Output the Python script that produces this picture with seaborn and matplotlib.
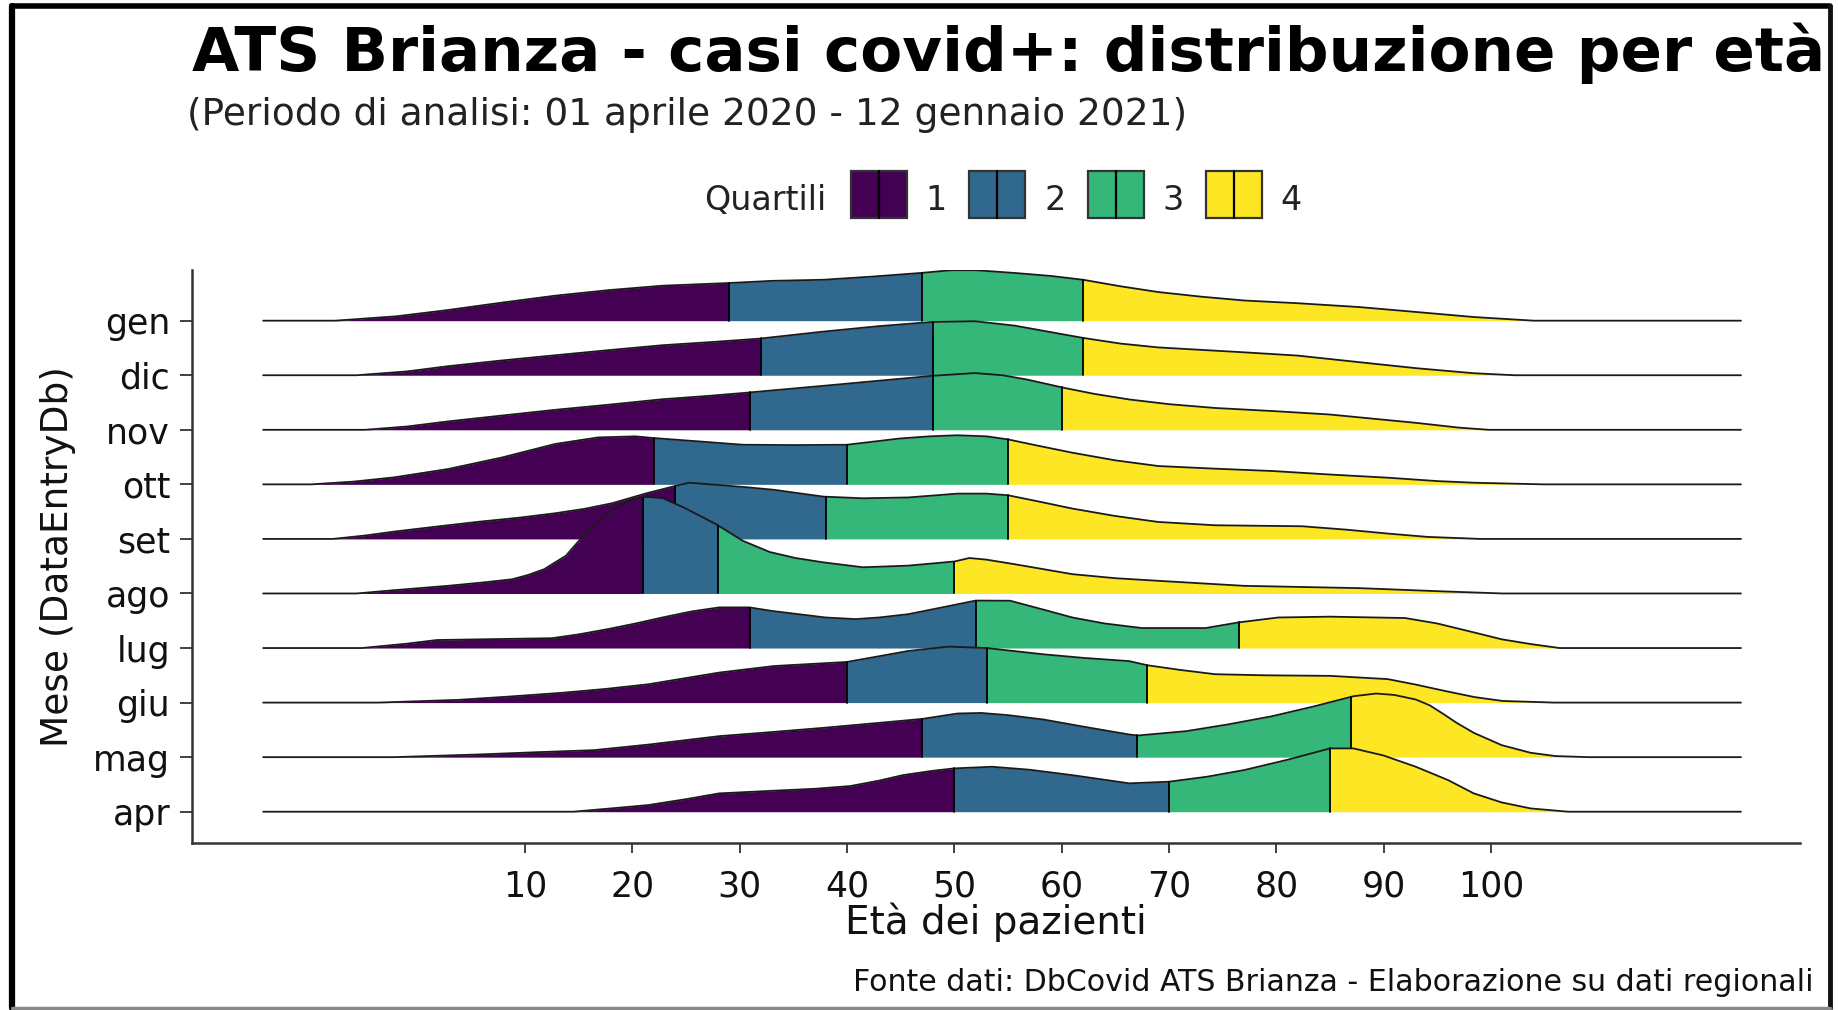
import numpy as np
import matplotlib.pyplot as plt
import seaborn as sns
from matplotlib.patches import Rectangle
from matplotlib.lines import Line2D

W, H = 1838, 1010

# months from bottom (apr) to top (gen)
months = ['apr', 'mag', 'giu', 'lug', 'ago', 'set', 'ott', 'nov', 'dic', 'gen']

# density outlines: age and ridge height (in rows)
apr_age = [14.5, 18, 21.5, 25, 28.1, 33.2, 37, 40.3, 43, 45.2, 48, 50, 53.5, 57, 61, 66.3, 70, 73.5, 77,
           81, 85, 87.2, 90, 93, 96, 98.4, 101, 103.7, 107.2]
apr_h = [0, 0.06, 0.122, 0.23, 0.336, 0.385, 0.42, 0.47, 0.57, 0.67, 0.75, 0.794, 0.824, 0.77, 0.67, 0.52,
         0.55, 0.64, 0.763, 0.95, 1.16, 1.16, 1.03, 0.824, 0.58, 0.336, 0.17, 0.06, 0]

mag_age = [-2.2, 5.8, 11, 16.4, 21.5, 28.1, 33, 37.8, 42.5, 47, 50.3, 52.5, 55, 58.3, 62, 66.3, 67.1, 71.6,
           75.5, 79.6, 83.5, 87.2, 89.3, 91, 93, 94.3, 95.5, 96.8, 98.4, 101, 103.7, 106, 109.1]
mag_h = [0, 0.05, 0.09, 0.128, 0.23, 0.385, 0.46, 0.537, 0.62, 0.70, 0.80, 0.81, 0.77, 0.69, 0.56, 0.415,
         0.397, 0.476, 0.60, 0.75, 0.93, 1.117, 1.166, 1.14, 1.056, 0.95, 0.80, 0.63, 0.446, 0.22, 0.08,
         0.02, 0]

giu_age = [-3.7, 3.8, 8.5, 13.5, 17.5, 21.5, 25, 28.1, 33.2, 40, 43, 45.7, 49.5, 53, 58.3, 62, 66.3, 68,
           71, 74.3, 79, 85, 90.4, 93, 95.7, 98.5, 101.1, 105.9]
giu_h = [0, 0.05, 0.11, 0.18, 0.25, 0.336, 0.45, 0.55, 0.67, 0.745, 0.85, 0.946, 1.026, 1.0, 0.885, 0.82,
         0.76, 0.684, 0.60, 0.52, 0.50, 0.49, 0.43, 0.33, 0.214, 0.10, 0.03, 0]

lug_age = [-5.2, -1, 1.8, 6, 12.5, 15, 17.8, 20.3, 22.8, 25.5, 28.1, 30.9, 33, 35.5, 38, 40.8, 43, 45.7,
           49, 52, 55.2, 58, 61, 64, 67.5, 73.4, 76.5, 80.2, 85, 92, 95, 98.4, 101, 103.7, 106.4]
lug_h = [0, 0.08, 0.147, 0.16, 0.18, 0.25, 0.35, 0.45, 0.56, 0.67, 0.745, 0.745, 0.68, 0.62, 0.56, 0.53,
         0.56, 0.62, 0.75, 0.87, 0.867, 0.72, 0.56, 0.45, 0.366, 0.366, 0.47, 0.56, 0.575, 0.55, 0.45,
         0.287, 0.16, 0.073, 0]

ago_age = [-5.7, -2.2, 2.8, 6, 8.8, 10.3, 11.8, 12.8, 13.8, 15, 15.8, 17.8, 19.8, 21.3, 22.8, 24.8, 27.8,
           30.3, 32.8, 35.2, 37.8, 41.5, 45.7, 50, 51.4, 53, 55.6, 61, 65, 69, 77, 87.7, 95.7, 101.1]
ago_h = [0, 0.06, 0.14, 0.2, 0.26, 0.34, 0.446, 0.57, 0.69, 0.96, 1.15, 1.48, 1.71, 1.77, 1.75, 1.575,
         1.27, 0.965, 0.76, 0.65, 0.57, 0.48, 0.51, 0.586, 0.65, 0.62, 0.537, 0.354, 0.28, 0.232, 0.14,
         0.098, 0.037, 0]

set_age = [-7.9, -5, -2.2, 1.5, 5.8, 9.5, 12.8, 15.5, 18.1, 21.3, 23.8, 25.3, 27.9, 30.5, 33.2, 37.8,
           41.5, 45.7, 50.3, 53, 55, 58, 61, 65, 69, 74.3, 82.4, 86.5, 90.4, 94.1, 99]
set_h = [0, 0.06, 0.134, 0.22, 0.317, 0.39, 0.47, 0.55, 0.653, 0.836, 0.96, 1.03, 0.99, 0.95, 0.90,
         0.775, 0.745, 0.76, 0.83, 0.83, 0.80, 0.68, 0.556, 0.42, 0.311, 0.25, 0.232, 0.17, 0.098, 0.037, 0]

ott_age = [-9.9, -6, -2.2, 2.8, 7.8, 12.8, 16.8, 20.3, 21.9, 26, 30.3, 35, 40, 44.9, 47.7, 50.3, 53, 55,
           58, 61, 65, 69, 74, 79.7, 85, 90.4, 95, 98.4, 104.9]
ott_h = [0, 0.05, 0.128, 0.28, 0.49, 0.74, 0.86, 0.88, 0.85, 0.79, 0.726, 0.72, 0.726, 0.84, 0.88, 0.90,
         0.88, 0.824, 0.70, 0.58, 0.44, 0.336, 0.29, 0.244, 0.18, 0.122, 0.06, 0.03, 0]

nov_age = [-4.9, -1, 2.8, 7.8, 12.8, 17.8, 22.8, 27, 30.9, 37.8, 43, 48, 51.9, 54.5, 56.8, 60.2, 63,
           66.3, 70, 74.3, 80, 85, 93, 97, 99.8]
nov_h = [0, 0.06, 0.153, 0.26, 0.366, 0.46, 0.56, 0.62, 0.684, 0.806, 0.90, 0.99, 1.04, 1.0, 0.92, 0.77,
         0.66, 0.556, 0.47, 0.40, 0.34, 0.28, 0.128, 0.04, 0]

dic_age = [-5.7, -1, 2.8, 7.8, 12.8, 17.8, 22.8, 27.5, 31.8, 37.8, 43, 47.8, 51.9, 55.6, 59, 62, 65.5,
           69, 77, 82, 87.7, 93, 98.4, 102.2]
dic_h = [0, 0.07, 0.165, 0.27, 0.366, 0.46, 0.55, 0.61, 0.67, 0.80, 0.90, 0.975, 0.99, 0.91, 0.79, 0.684,
         0.58, 0.51, 0.42, 0.36, 0.24, 0.13, 0.037, 0]

gen_age = [-7.7, -2, 2.8, 7.8, 12.8, 17.8, 22.8, 29, 33, 37.8, 42.5, 46.9, 49.7, 52, 55.6, 59, 62, 65.5,
           69, 73, 77, 82, 87.7, 93, 98.4, 104]
gen_h = [0, 0.08, 0.195, 0.33, 0.458, 0.56, 0.641, 0.69, 0.73, 0.75, 0.81, 0.875, 0.925, 0.925, 0.875,
         0.82, 0.75, 0.63, 0.525, 0.44, 0.37, 0.32, 0.25, 0.16, 0.067, 0]

# quartile cut points per month (same order as months)
q1 = [50, 47, 40, 31, 21, 24, 22, 31, 32, 29]
q2 = [70, 67, 53, 52, 28, 38, 40, 48, 48, 47]
q3 = [85, 87, 68, 76.5, 50, 55, 55, 60, 62, 62]

age_min, age_max = -14.4, 123.3
xticks = [10, 20, 30, 40, 50, 60, 70, 80, 90, 100]
quart_labels = ['1', '2', '3', '4']
viridis4 = ['#440154', '#31688E', '#35B779', '#FDE725']

ages = [apr_age, mag_age, giu_age, lug_age, ago_age, set_age, ott_age, nov_age, dic_age, gen_age]
heights = [apr_h, mag_h, giu_h, lug_h, ago_h, set_h, ott_h, nov_h, dic_h, gen_h]

sns.set_theme(style='ticks')
plt.rcParams['font.family'] = ['DejaVu Sans']

fig = plt.figure(figsize=(W / 100, H / 100), dpi=100)
ax = fig.add_axes([191.8 / W, 1 - 843.3 / H, (1800 - 191.8) / W, (843.3 - 270) / H])

# draw ridges from the top one down, so lower ridges lie over upper ones
for i in reversed(range(len(months))):
    xs = np.array(ages[i], dtype=float)
    hs = np.array(heights[i], dtype=float)
    z = 10 + (len(months) - i) * 3
    bounds = [xs[0], q1[i], q2[i], q3[i], xs[-1]]
    for k in range(4):
        a, b = bounds[k], bounds[k + 1]
        inner = (xs > a) & (xs < b)
        sx = np.concatenate([[a], xs[inner], [b]])
        sh = np.interp(sx, xs, hs)
        ax.fill_between(sx, i, i + sh, color=viridis4[k], lw=0, zorder=z)
    ox = np.concatenate([[age_min], xs, [age_max]])
    oh = np.concatenate([[0], hs, [0]])
    sns.lineplot(x=ox, y=i + oh, ax=ax, color='#1a1a1a', lw=1.3, sort=False, estimator=None, zorder=z + 1)
    for q in [q1[i], q2[i], q3[i]]:
        ax.plot([q, q], [i, i + np.interp(q, xs, hs)], color='black', lw=1.3, zorder=z + 1)

ax.set_xlim(-21.05, 128.8)
ax.set_ylim(-0.579, 9.929)
ax.set_xticks(xticks)
ax.set_xticklabels([str(t) for t in xticks])
ax.set_yticks(range(len(months)))
ax.set_yticklabels(months)
ax.set_xlabel('')
ax.set_ylabel('')
sns.despine(ax=ax)
for s in ['left', 'bottom']:
    ax.spines[s].set_color('#333333')
    ax.spines[s].set_linewidth(1.8)
ax.tick_params(axis='y', length=8.6, width=1.3, pad=7, labelsize=25, color='#333333', labelcolor='#111111')
ax.tick_params(axis='x', length=7, width=1.3, pad=12, labelsize=25, color='#333333', labelcolor='#111111')

# titles and labels
fig.text(192 / W, 1 - 71 / H, 'ATS Brianza - casi covid+: distribuzione per età', fontsize=44,
         fontweight='bold', color='black', va='baseline', ha='left')
fig.text(187 / W, 1 - 125 / H, '(Periodo di analisi: 01 aprile 2020 - 12 gennaio 2021)', fontsize=27,
         color='#222222', va='baseline', ha='left')
fig.text(996 / W, 1 - 934 / H, 'Età dei pazienti', fontsize=28, color='#111111', va='baseline', ha='center')
fig.text(58 / W, 1 - 557 / H, 'Mese (DataEntryDb)', fontsize=27, color='#111111', rotation=90,
         va='center', ha='center')
fig.text(1814 / W, 1 - 990.7 / H, 'Fonte dati: DbCovid ATS Brianza - Elaborazione su dati regionali',
         fontsize=21.6, color='#111111', va='baseline', ha='right')

# legend
fig.text(826 / W, 1 - 210 / H, 'Quartili', fontsize=24, color='#222222', va='baseline', ha='right')
box_x = [850.6, 969, 1088, 1205.7]
lab_x = [936, 1055, 1173, 1291]
for k in range(4):
    fig.add_artist(Rectangle((box_x[k] / W, 1 - 218.3 / H), 56 / W, 47.6 / H, transform=fig.transFigure,
                             facecolor=viridis4[k], edgecolor='#333333', lw=1.6))
    mx = (box_x[k] + 28) / W
    fig.add_artist(Line2D([mx, mx], [1 - 218.3 / H, 1 - 170.7 / H], transform=fig.transFigure,
                          color='black', lw=1.6))
    fig.text(lab_x[k] / W, 1 - 210 / H, quart_labels[k], fontsize=24, color='#222222',
             va='baseline', ha='center')

# outer frame of the picture
fig.add_artist(Line2D([12 / W, 12 / W], [1 - 6 / H, 1 - 1008 / H], transform=fig.transFigure, color='black', lw=4.5))
fig.add_artist(Line2D([12 / W, 1830 / W], [1 - 6 / H, 1 - 6 / H], transform=fig.transFigure, color='black', lw=4))
fig.add_artist(Line2D([1830 / W, 1830 / W], [1 - 6 / H, 1 - 1008 / H], transform=fig.transFigure, color='#111111', lw=3.5))
fig.add_artist(Line2D([12 / W, 1830 / W], [1 - 1008 / H, 1 - 1008 / H], transform=fig.transFigure, color='#888888', lw=2.5))

fig.savefig('out.png', dpi=100)
